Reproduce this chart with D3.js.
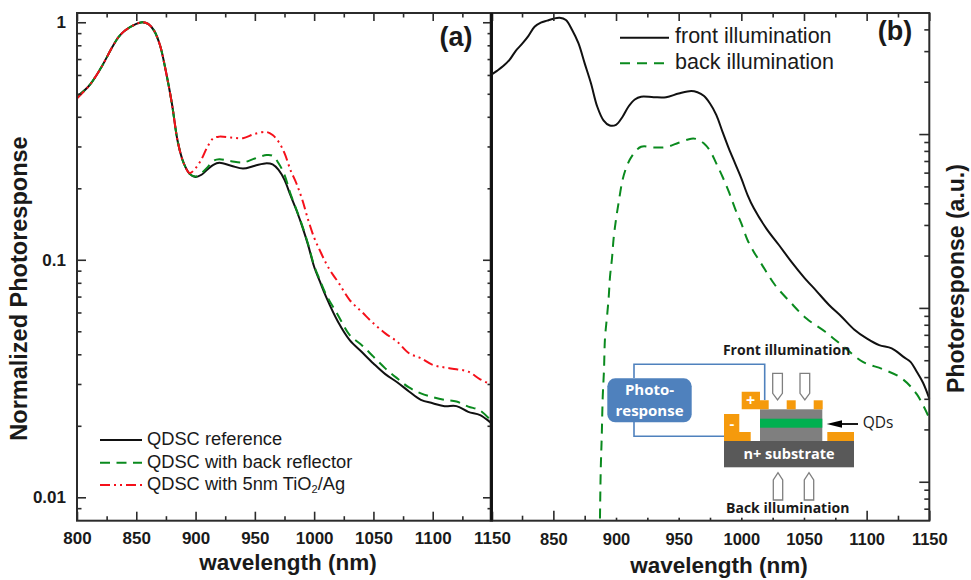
<!DOCTYPE html>
<html><head><meta charset="utf-8">
<script src="https://cdn.jsdelivr.net/npm/d3@7"></script>
<style>
html,body{margin:0;padding:0;background:#fff}
svg{display:block}
text{font-family:"Liberation Sans",Arial,sans-serif;fill:#1a1a1a}
.inset{font-family:"Open Sans",sans-serif;font-weight:700}
</style></head><body>
<svg id="c" width="971" height="580"></svg>
<script>
// ---------- panel (a) data ----------
const wlRefA = [800,810,820,830,835,840,850,855,860,865,870,875,880,885,890,895,900,905,910,915,920,930,940,950,960,965,970,975,980,985,990,995,1000,1005,1010,1020,1030,1040,1050,1060,1070,1080,1090,1100,1110,1120,1130,1140,1150];
const qdscReference = [.486,.539,.64,.79,.865,.919,.984,1,.984,.922,.80,.62,.456,.314,.255,.23,.223,.228,.24,.251,.256,.249,.242,.249,.255,.252,.239,.217,.187,.162,.138,.115,.0935,.0807,.07,.055,.0459,.041,.0366,.033,.0305,.0279,.0257,.0249,.0242,.0242,.0229,.0222,.0204];
const qdscReflector = [.486,.539,.64,.79,.865,.919,.984,1,.984,.922,.80,.62,.456,.314,.255,.23,.224,.232,.245,.261,.265,.26,.257,.267,.276,.274,.255,.228,.19,.163,.139,.116,.0945,.0818,.0715,.0586,.0482,.0438,.0391,.0349,.0317,.029,.0274,.0264,.0257,.0253,.0241,.0232,.0208];
const wlTiO2 = [800,810,820,830,835,840,850,855,860,865,870,875,880,885,890,895,900,905,910,915,920,930,940,950,960,965,970,975,980,985,990,995,1000,1005,1010,1015,1020,1030,1040,1050,1060,1070,1080,1090,1100,1110,1120,1130,1140,1150];
const qdscTiO2Ag = [.478,.539,.64,.79,.865,.919,.984,1,.984,.922,.80,.62,.456,.314,.255,.232,.243,.265,.299,.325,.33,.327,.325,.339,.345,.335,.314,.281,.239,.21,.179,.147,.124,.109,.0967,.0877,.0809,.0677,.0605,.054,.049,.0452,.0404,.0385,.0361,.0352,.0346,.0338,.0314,.0297];
// ---------- panel (b) data ----------
const wlFront = [800,805,810,815,820,825,830,835,840,845,850,855,860,865,870,875,880,885,890,895,900,905,910,915,920,930,940,950,960,965,970,975,980,985,990,995,1000,1005,1010,1020,1030,1040,1050,1060,1070,1080,1090,1100,1110,1120,1130,1135,1140,1145,1150];
const frontIllumination = [2.185,2.31,2.46,2.67,3.01,3.3,3.66,4.14,4.37,4.49,4.61,4.67,4.53,3.97,3.33,2.55,1.96,1.44,1.2,1.12,1.13,1.25,1.44,1.58,1.64,1.63,1.63,1.71,1.77,1.74,1.66,1.5,1.29,1.03,.827,.678,.556,.446,.374,.286,.23,.184,.15,.125,.104,.089,.0752,.0668,.0611,.0585,.0519,.0489,.0429,.0371,.0301];
const wlBack = [887.2,887.8,888.6,889.4,890.4,891.2,892.8,894.2,895.2,896.8,898.1,900,902.4,905.3,908.5,912.7,920,930,940,950,960,965,970,975,980,985,990,995,1000,1005,1010,1015,1020,1027,1039,1052,1067,1082,1097,1113,1128,1140,1150];
const backIllumination = [.00615,.01167,.0181,.0308,.0439,.0668,.0889,.116,.151,.193,.251,.323,.417,.548,.65,.747,.845,.838,.842,.891,.94,.933,.884,.802,.678,.568,.466,.373,.306,.245,.21,.184,.161,.135,.108,.0868,.0729,.0595,.0489,.0444,.0393,.0319,.0232];
// ---------- axis ticks ----------
const xMajorA = [800,850,900,950,1000,1050,1100,1150];
const xMajorB = [850,900,950,1000,1050,1100,1150];
const xMinor = [825,875,925,975,1025,1075,1125];
const yMajorA = [1,0.1,0.01];
const yMinorA = [.9,.8,.7,.6,.5,.4,.3,.2,.09,.08,.07,.06,.05,.04,.03,.02,.009];
const yMajorB = [1,0.1,0.01];
const yMinorB = [4,3,2,.9,.8,.7,.6,.5,.4,.3,.2,.09,.08,.07,.06,.05,.04,.03,.02,.009,.008,.007];
const legendA = ["QDSC reference","QDSC with back reflector","QDSC with 5nm TiO"];
const legendB = ["front illumination","back illumination"];

const svg = d3.select("#c");
const A = {l:77,r:492,t:13,b:520.7}, B = {l:490.7,r:929.3,t:13,b:520.7};
const xA = d3.scaleLinear().domain([800,1150]).range([A.l,A.r]);
const yA = d3.scaleLog().domain([0.00797,1.094]).range([A.b,A.t]);
const xB = d3.scaleLinear().domain([800,1150]).range([B.l,B.r]);
const yB = d3.scaleLog().domain([0.00597,4.97]).range([B.b,B.t]);

const black="#111", green="#0a8a1e", red="#f5101a", spine="#2b2b2b";
function curve(x,y,xs,ys,color,dash,w){
  const line=d3.line().x((d,i)=>x(xs[i])).y(d=>y(d)).curve(d3.curveCatmullRom.alpha(0.5));
  svg.append("path").attr("d",line(ys)).attr("fill","none").attr("stroke",color)
    .attr("stroke-width",w||2).attr("stroke-dasharray",dash||null).attr("stroke-linejoin","round");
}
function axis(gen,tx,ty,vals,size,labels,pad,fs){
  const g=svg.append("g").attr("transform",`translate(${tx},${ty})`)
   .call(gen.tickValues(vals).tickSize(-size).tickSizeOuter(0).tickPadding(pad||0)
     .tickFormat(labels?(d=>String(d)):""));
  g.select(".domain").remove();
  g.selectAll("line").attr("stroke",spine).attr("stroke-width",1.6);
  g.selectAll("text").style("font-family",'"Liberation Sans",Arial,sans-serif')
    .style("font-weight","700").style("font-size",(fs||17)+"px").attr("fill","#1a1a1a");
  return g;
}
// panel a
curve(xA,yA,wlRefA,qdscReference,black,null,2);
curve(xA,yA,wlRefA,qdscReflector,green,"10 6.5",2);
curve(xA,yA,wlTiO2,qdscTiO2Ag,red,"10 4 2 4 2 4",2);
// panel b
curve(xB,yB,wlFront,frontIllumination,black,null,2);
curve(xB,yB,wlBack,backIllumination,green,"10 7",2);

// axes (a)
axis(d3.axisBottom(xA),0,A.b,xMajorA,9,true,11,17);
axis(d3.axisBottom(xA),0,A.b,xMinor,4.5,false);
axis(d3.axisTop(xA),0,A.t,xMajorA,8,false);
axis(d3.axisTop(xA),0,A.t,xMinor,4.5,false);
axis(d3.axisLeft(yA),A.l,0,yMajorA,9,true,11,17);
axis(d3.axisLeft(yA),A.l,0,yMinorA,4.5,false);
axis(d3.axisRight(yA),A.r,0,yMajorA,9,false);
axis(d3.axisRight(yA),A.r,0,yMinorA,4.5,false);
// axes (b)
axis(d3.axisBottom(xB),0,B.b,xMajorB,10,true,13,16.5);
axis(d3.axisBottom(xB),0,B.b,xMinor,5,false);
axis(d3.axisTop(xB),0,B.t,xMajorB,8,false);
axis(d3.axisTop(xB),0,B.t,xMinor,4.5,false);
axis(d3.axisRight(yB),B.r,0,yMajorB,10,false);
axis(d3.axisRight(yB),B.r,0,yMinorB,5,false);

// frames
svg.append("rect").attr("x",A.l).attr("y",A.t).attr("width",A.r-A.l).attr("height",A.b-A.t)
  .attr("fill","none").attr("stroke",spine).attr("stroke-width",2);
svg.append("rect").attr("x",B.l).attr("y",B.t).attr("width",B.r-B.l).attr("height",B.b-B.t)
  .attr("fill","none").attr("stroke",spine).attr("stroke-width",2);
svg.append("line").attr("x1",491.5).attr("x2",491.5).attr("y1",A.t).attr("y2",A.b)
  .attr("stroke","#111").attr("stroke-width",2.5);

// axis titles
function title(t,x,y,size,rot){
  const e=svg.append("text").text(t).attr("text-anchor","middle").attr("dominant-baseline","middle")
    .style("font-weight","700").style("font-size",size+"px");
  e.attr("transform",`translate(${x},${y})`+(rot?` rotate(${rot})`:""));
}
title("wavelength (nm)",288,564,22.5);
title("wavelength (nm)",719,567,22.5);
title("Normalized Photoresponse",21,288.5,23.5,-90);
title("Photoresponse (a.u.)",958,278.5,23,-90);
title("(a)",456,39,27);
title("(b)",895,33,27);

// legends
function legRow(x1,x2,tx,y,color,dash,label,fs){
  svg.append("line").attr("x1",x1).attr("x2",x2).attr("y1",y).attr("y2",y)
    .attr("stroke",color).attr("stroke-width",2).attr("stroke-dasharray",dash||null);
  return svg.append("text").attr("x",tx).attr("y",y).attr("dominant-baseline","middle")
    .style("font-size",fs+"px").text(label);
}
legRow(100,142,147,440,black,null,legendA[0],18.3);
legRow(100,142,147,462.7,green,"10 6.5",legendA[1],18.3);
const t3=legRow(100,142,147,485,red,"10 4 2 4 2 4",legendA[2],18.3);
t3.append("tspan").attr("dy",5).style("font-size","11px").text("2");
t3.append("tspan").attr("dy",-5).text("/Ag");
legRow(620,669,675,37.7,black,null,legendB[0],21.5);
legRow(620,669,675,63.3,green,"10 7",legendB[1],21.5);

// inset schematic
const ins=svg.append("g");
const orange="#f59a0c", gray="#7f7f7f", wire="#4f81bd";
ins.append("rect").attr("x",607).attr("y",505).attr("width",253).attr("height",12.7).attr("fill","#fff");
ins.append("path").attr("d","M634 378V364.3H764.7V400M634 422V436.3H724").attr("fill","none").attr("stroke",wire).attr("stroke-width",1.6);
ins.append("rect").attr("x",607.3).attr("y",378.3).attr("width",84.4).attr("height",44).attr("rx",8).attr("fill",wire);
ins.append("rect").attr("x",724).attr("y",441).attr("width",130).attr("height",26.3).attr("fill","#595959");
ins.append("rect").attr("x",760).attr("y",409.3).attr("width",62.3).attr("height",31.7).attr("fill",gray);
ins.append("rect").attr("x",760).attr("y",418.7).attr("width",62.3).attr("height",9).attr("fill","#00b050");
ins.append("path").attr("d","M724 441V414H739.3V432H750.7V441Z").attr("fill",orange);
ins.append("rect").attr("x",827.3).attr("y",432).attr("width",26.7).attr("height",9).attr("fill",orange);
ins.append("path").attr("d","M741.7 391.7H760V400.3H768.7V409.3H741.7Z").attr("fill",orange);
ins.append("rect").attr("x",786.7).attr("y",400.3).attr("width",9).attr("height",9).attr("fill",orange);
ins.append("rect").attr("x",813.7).attr("y",400.3).attr("width",9).attr("height",9).attr("fill",orange);
[772.7,800].forEach(x=>{ins.append("path").attr("d",`M${x} 373.3h9.7v20l-4.85 6.7l-4.85 -6.7Z`).attr("fill","#fff").attr("stroke",gray).attr("stroke-width",1.3);});
[773.3,804.3].forEach(x=>{ins.append("path").attr("d",`M${x} 500v-20l4.7 -7.3l4.7 7.3v20Z`).attr("fill","#fff").attr("stroke",gray).attr("stroke-width",1.3);});
ins.append("path").attr("d","M858 424H838").attr("stroke","#000").attr("stroke-width",1.8);
ins.append("path").attr("d","M826.7 424L842 420.2V427.8Z").attr("fill","#000");
function insText(t,x,y,fs,col,w){
  ins.append("text").attr("class","inset").attr("x",x).attr("y",y).attr("text-anchor","middle")
    .attr("dominant-baseline","middle").style("font-size",fs+"px").style("fill",col)
    .style("font-weight",w||700).text(t);
}
insText("Photo-",649.5,391,15,"#fff");
insText("response",649.5,411.5,15,"#fff");
insText("+",750.5,402,16,"#fff");
insText("-",732,424.5,15,"#fff");
insText("n+ substrate",789,455,14.5,"#fff");
insText("Front illumination",786.7,351,14,"#1a1a1a");
insText("Back illumination",787.7,509,14,"#1a1a1a");
insText("QDs",878,424,15.5,"#1a1a1a",400);
</script></body></html>
